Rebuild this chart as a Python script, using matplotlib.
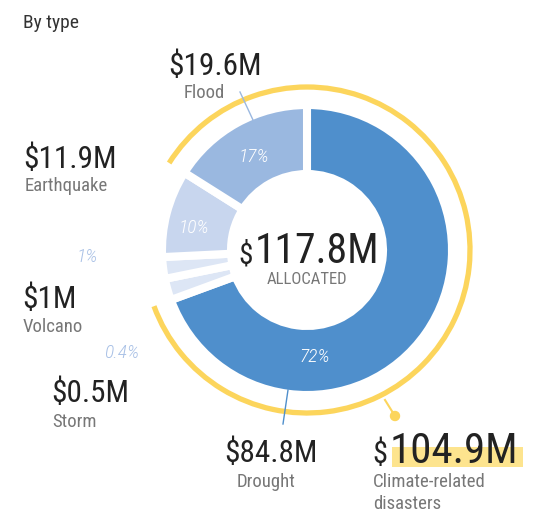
import numpy as np
import matplotlib
matplotlib.use('Agg')
from matplotlib import pyplot as plt
from matplotlib import font_manager
from matplotlib.patches import Arc, Rectangle, Circle

# data
types = ['Drought', 'Storm', 'Volcano', 'Earthquake', 'Flood']
amounts = [84.8, 0.5, 1.0, 11.9, 19.6]          # $M
pct_labels = ['72%', '0.4%', '1%', '10%', '17%']
total = 117.8
climate_total = 104.9
colors = ['#4f8fcc', '#dde6f5', '#dde6f5', '#c8d6ee', '#9ab8e0']

W, H = 551, 513
CX, CY = 307, H - 250

names = {f.name for f in font_manager.fontManager.ttflist}
FONT = next((n for n in ['Roboto Condensed', 'Liberation Sans Narrow', 'Roboto']
             if n in names), 'DejaVu Sans')
plt.rcParams['font.family'] = [FONT, 'DejaVu Sans']

fig = plt.figure(figsize=(W / 100, H / 100), dpi=100)
ax = fig.add_axes([0, 0, 1, 1])

# tiny slices get a minimum visible share
share = np.array(amounts) / sum(amounts)
shown = np.maximum(share, 0.025)
shown = shown / shown.sum()

ax.pie(shown, radius=145, center=(CX, CY), startangle=90, counterclock=False,
       colors=colors,
       wedgeprops=dict(width=69, edgecolor='white', linewidth=5.8))

# yellow arc over climate-related slices (flood start -> drought end)
ang = np.cumsum(np.concatenate([[0], shown])) * 360
flood_start = ang[4]
drought_end = ang[1]
t1 = 90 - drought_end
t2 = 90 - flood_start + 360
ax.add_patch(Arc((CX, CY), 326, 326, theta1=t1 % 360, theta2=t1 % 360 + (t2 - t1) % 360,
                 color='#fcd55c', lw=3.8, zorder=3))

ax.set_xlim(0, W)
ax.set_ylim(0, H)
ax.set_aspect('equal')
ax.axis('off')


def Y(y):
    return H - y


def txt(x, y, s, size, color='#222222', **kw):
    ax.text(x, Y(y), s, fontsize=size, color=color, ha='left', va='baseline', **kw)


txt(23, 28, 'By type', 14, '#333333')

# center
txt(238, 263, '$', 21)
txt(255, 263, f'{total}M', 30)
ax.text(307, Y(284), 'ALLOCATED', fontsize=12, color='#777777', ha='center', va='baseline')

# leader lines
ax.plot([253, 240], [Y(120), Y(92)], color='#9ab8e0', lw=1, zorder=4)
ax.plot([288, 283], [Y(390), Y(424)], color='#4f8fcc', lw=1, zorder=4)
ax.plot([385, 395], [Y(400), Y(416)], color='#fcd55c', lw=1.5, zorder=4)
ax.add_patch(Circle((395, Y(416)), 4.5, color='#fcd55c', zorder=4))

# value / name labels
gray = '#777777'
vs, ns = 22.5, 13.5
txt(168, 75, f'${amounts[4]}M', vs)
txt(184, 98, types[4], ns, gray)
txt(23, 168, f'${amounts[3]}M', vs)
txt(25, 191, types[3], ns, gray)
txt(22, 308, f'${amounts[2]:g}M', vs)
txt(23, 332, types[2], ns, gray)
txt(51, 402, f'${amounts[1]}M', vs)
txt(52, 427, types[1], ns, gray)
txt(224, 462, f'${amounts[0]}M', vs)
txt(237, 487, types[0], ns, gray)

ax.add_patch(Rectangle((392, Y(467)), 131, 20, color='#fde48e', zorder=1, lw=0))
txt(372, 463, '$', 22)
txt(390, 463, f'{climate_total}M', 31)
txt(373, 487, 'Climate-related', ns, gray)
txt(373, 509, 'disasters', ns, gray)

# percent labels
pk = dict(fontsize=14, style='italic', fontweight='light', ha='center', va='center')
ax.text(315, Y(357), pct_labels[0], color='white', **pk)
ax.text(254, Y(157), pct_labels[4], color='white', **pk)
ax.text(194, Y(228), pct_labels[3], color='white', **pk)
ax.text(87, Y(257), pct_labels[2], color='#a9c1e6', **pk)
ax.text(122, Y(353), pct_labels[1], color='#a9c1e6', **pk)

fig.savefig('out.png', dpi=100)
